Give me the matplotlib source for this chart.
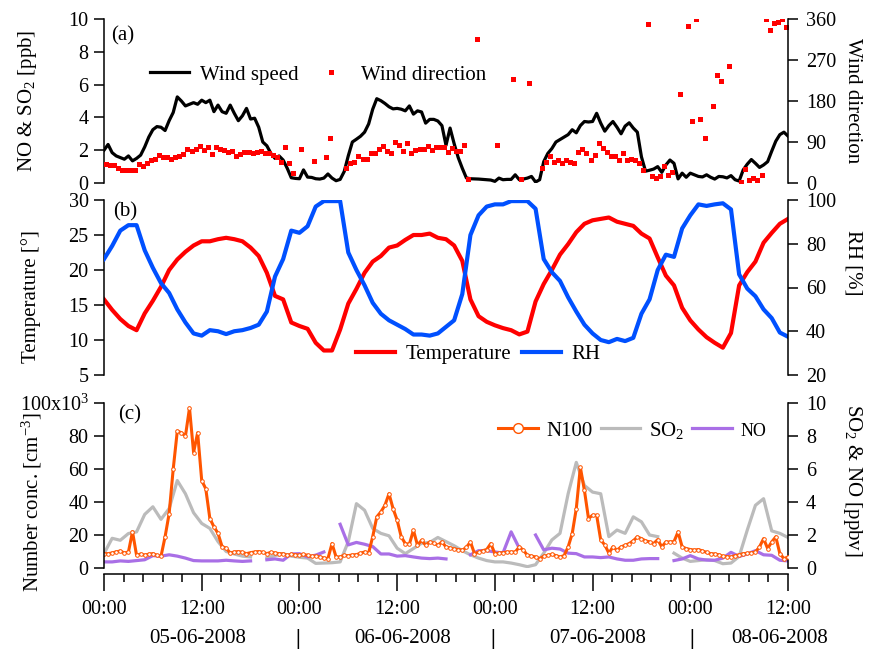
import numpy as np
import matplotlib.pyplot as plt
from matplotlib.lines import Line2D
from matplotlib.ticker import MultipleLocator

plt.rcParams['font.family'] = ['Liberation Serif', 'DejaVu Serif']
plt.rcParams['mathtext.fontset'] = 'custom'
plt.rcParams['mathtext.rm'] = 'Liberation Serif'
plt.rcParams['mathtext.default'] = 'regular'
plt.rcParams['font.size'] = 15
plt.rcParams['xtick.labelsize'] = 14.5
plt.rcParams['ytick.labelsize'] = 14.5
plt.rcParams['axes.linewidth'] = 1.1

nan = np.nan

# hours since 05-06-2008 00:00
# wind speed, every 30 min
wind_speed = [
    2.0, 2.35, 1.85, 1.65, 1.55, 1.45, 1.65, 1.35, 1.5, 1.7, 2.2, 2.8, 3.25, 3.44, 3.4, 3.2,
    3.8, 4.3, 5.25, 5.0, 4.7, 4.8, 4.9, 4.8, 5.05, 4.9, 5.05, 4.35, 4.75, 4.35, 4.25, 4.75,
    4.25, 3.8, 4.1, 4.55, 3.9, 3.95, 3.4, 2.5, 2.27, 1.8, 1.5, 1.65, 1.4, 0.9, 0.32, 0.28,
    0.26, 0.8, 0.36, 0.34, 0.26, 0.24, 0.3, 0.55, 0.3, 0.14, 0.22, 0.7, 1.66, 2.5, 2.67, 2.85,
    3.1, 3.6, 4.5, 5.14, 5.02, 4.85, 4.65, 4.52, 4.55, 4.5, 4.4, 4.7, 4.2, 4.4, 4.33, 3.65,
    3.88, 3.88, 3.78, 3.5, 2.3, 3.35, 2.4, 1.55, 0.9, 0.31, 0.26, 0.25, 0.24, 0.22, 0.2, 0.18,
    0.1, 0.3, 0.2, 0.22, 0.22, 0.5, 0.2, 0.24, 0.3, 0.4, 0.06, 0.2, 1.3, 1.8, 2.1, 2.5,
    2.65, 2.8, 2.95, 3.25, 3.06, 3.5, 3.75, 3.72, 3.75, 4.25, 3.65, 3.16, 3.5, 3.75, 3.4, 3.0,
    3.47, 3.67, 3.35, 3.1, 1.6, 0.72, 0.78, 0.85, 1.0, 0.65, 1.1, 1.4, 1.2, 0.25, 0.6, 0.35,
    0.6, 0.5, 0.4, 0.37, 0.5, 0.35, 0.24, 0.4, 0.38, 0.31, 0.45, 0.2, 0.12, 0.8, 1.15, 1.43,
    1.2, 0.95, 1.1, 1.3, 1.94, 2.55, 2.95, 3.1, 2.86,
]

# wind direction (deg), every 30 min from 00:15
wind_dir = [
    41.5, 40, 39, 34, 29, 28, 28, 28, 41.5, 38, 44, 51, 52, 61, 57, 57,
    52, 58, 60, 63, 74, 71, 74, 82, 73, 78, 63, 78, 74, 73, 67, 71,
    60, 63, 67, 67, 66, 69, 71, 66, 66, 61, 56, 47, 78, 45, 22, nan,
    74, nan, nan, 49, nan, nan, 56, 98, nan, nan, nan, 32, 45, 47, 60, 52,
    52, 66, 66, 74, 82, 71, 66, 89, 83, 71, 87, 66, 73, 74, 74, 82,
    73, 78, 78, 78, 67, 76, 70, 70, 83, 9, nan, 317, nan, nan, nan, nan,
    83, nan, nan, nan, 228, nan, 9, nan, 219, nan, nan, 33, 46, 60, 46, 51,
    43, 50, 46, 44, 68, 75, 66, 51, 62, 87, 77, 68, 59, 60, 50, 65,
    51, 53, 50, 43, 29, 349, 15, 11, 16, 38, 18, 24, nan, 195, nan, 344,
    137, 360, 141, 99, nan, 170, 237, 224, nan, 256, nan, nan, 1.5, 31, 7, 10,
    7, 18, 360, 336, 351, 354, 360, 342,
]

# hourly temperature (deg C) and RH (%)
temperature = [
    15.8, 14.3, 13.0, 12.0, 11.4, 13.8, 15.6, 17.6, 20.0, 21.5, 22.6, 23.5, 24.1, 24.1, 24.4, 24.6,
    24.4, 24.1, 23.2, 22.0, 19.6, 16.3, 15.8, 12.5, 12.0, 11.6, 9.6, 8.5, 8.5, 11.5, 15.2, 17.3,
    19.6, 21.2, 22.0, 23.2, 23.5, 24.3, 25.0, 25.0, 25.2, 24.6, 24.4, 23.5, 21.3, 15.8, 13.4, 12.6,
    12.1, 11.7, 11.4, 10.8, 11.2, 15.5, 18.0, 20.0, 22.2, 23.7, 25.4, 26.6, 27.1, 27.3, 27.5, 26.9,
    26.6, 26.3, 25.2, 24.5, 21.8, 19.2, 17.8, 14.6, 12.8, 11.5, 10.4, 9.6, 8.9, 11.0, 17.8, 19.7,
    21.2, 23.9, 25.3, 26.6, 27.3,
]
rh = [
    73, 79, 86, 88.5, 88.5, 77, 69, 62, 57.5, 50, 44, 39, 38, 40.5, 40, 38.7,
    40, 40.5, 41.5, 43, 49, 65, 73, 86, 85, 88, 97, 99.5, 99.5, 99.5, 76, 68,
    61, 53, 48, 45, 43, 41, 38.5, 38.5, 38, 39, 42, 45, 57, 84, 93, 97,
    98, 98, 99.5, 99.5, 99.5, 96, 73, 67, 63, 55.5, 49, 43, 39, 36, 35, 36.5,
    35.5, 37, 48, 54.6, 68, 75, 74, 87, 93, 98, 97.3, 98, 98.5, 95.7, 66, 59.5,
    56, 50, 46, 39.4, 37.5,
]

# N100 (x10^3 cm-3), every 30 min
n100 = [
    8.7, 8.7, 9.1, 9.8, 10.3, 9.1, 9.7, 22, 7.7, 8.5, 7.8, 8.4, 8.7, 7.7, 7.1, 18.9,
    33, 60, 83, 82, 80, 97, 70, 82, 53, 48, 30, 25, 21, 13, 12, 9.1,
    9.7, 10, 9.5, 8.7, 9.3, 9.7, 10, 9.5, 8.7, 9.5, 9.1, 8.7, 8.5, 7.7, 8.3, 8.0,
    7.7, 8.2, 7.7, 7.1, 7.3, 6.7, 6.0, 5.7, 14.8, 6.7, 6.7, 7.7, 7.5, 7.9, 8.1, 8.9,
    9.7, 9.1, 19, 31, 34, 38, 45, 36, 29, 18.9, 14.8, 14.4, 22.9, 13.8, 16.8, 13.8,
    15.8, 15, 13.8, 15.8, 12.8, 12.2, 11.5, 11.2, 10.8, 12.5, 15.8, 8.7, 9.5, 10.5, 11.2, 14.8,
    8.7, 9.0, 9.3, 9.7, 9.7, 9.7, 12.8, 10.8, 7.7, 7.2, 6.7, 5.7, 7.1, 7.6, 8.3, 7.5,
    6.7, 7.5, 12.8, 20.9, 36, 61, 47, 30, 32, 32, 17, 14, 9, 12.8, 10.8, 12.8,
    13.8, 14.8, 16.5, 18.9, 17.8, 16.5, 15.8, 14.8, 17.2, 12.8, 15.8, 15.8, 16, 21.9, 12.8, 11.8,
    11.2, 10.8, 11.2, 10.3, 9.5, 8.7, 8.5, 8.0, 7.1, 6.9, 6.7, 7.5, 8.0, 8.7, 8.9, 9.1,
    9.7, 12.8, 17.8, 11.8, 15.8, 18.9, 8.7, 5.7, 6.7,
]

# hourly SO2 and NO (ppbv)
so2 = [
    0.87, 1.8, 1.68, 2.09, 2.19, 3.25, 3.71, 2.95, 3.6, 5.3, 4.5, 3.35, 2.7, 2.4, 1.6, 1.0,
    0.85, 0.72, 0.67, nan, 0.62, 0.75, 0.87, 0.72, 0.65, 0.6, 0.28, 0.3, 0.32, 0.37, 1.6, 3.9,
    3.5, 2.4, 2.1, 1.95, 1.2, 0.87, 1.18, 1.5, 1.55, 1.85, 1.6, 1.35, 1.05, 0.8, 0.6, 0.45,
    0.37, 0.37, 0.3, 0.2, 0.08, 0.2, 0.9, 1.7, 2.1, 4.5, 6.4, 5.0, 4.6, 4.5, 1.9, 2.3,
    2.1, 3.1, 2.8, 2.0, 1.9, nan, 0.9, 0.6, 0.4, 0.45, 0.5, 0.45, 0.26, 0.3, 0.7, 2.3,
    3.8, 4.2, 2.25, 2.1, 1.85,
]
no = [
    0.37, 0.37, 0.43, 0.4, 0.45, 0.5, 0.75, 0.72, 0.8, 0.72, 0.6, 0.45, 0.43, 0.43, 0.43, 0.47,
    0.43, 0.4, 0.43, nan, 0.5, 0.55, 0.47, 0.85, 0.87, 0.67, 0.78, 0.97, nan, 2.65, 1.4, 1.55,
    1.44, 1.3, 0.85, 0.85, 0.72, 0.75, 0.67, 0.6, 0.57, 0.6, 0.55, nan, nan, 0.8, 1.05, 1.05,
    0.97, 0.91, 2.19, 1.2, nan, 2.0, 1.1, 1.2, 1.15, 0.9, 0.87, 0.67, 0.67, 0.63, 0.67, 0.55,
    0.47, 0.47, 0.55, 0.57, 0.57, nan, 0.45, 0.55, 0.75, 0.55, 0.48, 0.47, 0.6, 0.95, 0.7, 0.85,
    1.05, 0.8, 0.77, 0.47, 0.43,
]

dates = ['05-06-2008', '06-06-2008', '07-06-2008', '08-06-2008']
date_hours = [11.5, 36.7, 60.6, 83.0]
day_breaks = [23.8, 47.8, 72.2]

t_half = np.arange(len(wind_speed)) * 0.5
t_wd = 0.25 + np.arange(len(wind_dir)) * 0.5
t_hour = np.arange(len(temperature))
t_n100 = np.arange(len(n100)) * 0.5

W, H = 870, 652


def box(top, bottom):
    return [104 / W, 1 - bottom / H, 684 / W, (bottom - top) / H]


def style(ax, tw):
    for a in (ax, tw):
        a.spines['top'].set_visible(False)
        a.spines['bottom'].set_visible(False)
        a.tick_params(axis='y', direction='out', length=7, width=1.1, pad=4)
    ax.spines['right'].set_visible(False)
    tw.spines['left'].set_visible(False)
    tw.tick_params(axis='y', pad=6)
    ax.tick_params(axis='x', bottom=False, labelbottom=False)
    ax.set_xlim(0, 84)


fig = plt.figure(figsize=(8.7, 6.52), dpi=100)

# (a) wind
ax_a = fig.add_axes(box(19, 183))
ax_a2 = ax_a.twinx()
style(ax_a, ax_a2)
ax_a.plot(t_half, wind_speed, color='black', lw=2.3)
ax_a2.plot(t_wd, wind_dir, ls='none', marker='s', ms=3.6, color='#FF0000', mew=0)
ax_a.set_ylim(0, 10)
ax_a.set_yticks(range(0, 11, 2))
ax_a2.set_ylim(0, 360)
ax_a2.set_yticks(range(0, 361, 90))
ax_a.set_ylabel('NO & SO$_2$ [ppb]', va='center')
ax_a.yaxis.set_label_coords(-0.112, 0.5)
ax_a2.set_ylabel('Wind direction', rotation=270, va='center')
ax_a2.yaxis.set_label_coords(1.095, 0.5)
ax_a.text(0.028, 0.9, '(a)', transform=ax_a.transAxes, ha='center', va='center')
h_a = [Line2D([], [], color='black', lw=2.3),
       Line2D([], [], ls='none', marker='s', ms=3.6, color='#FF0000', mew=0)]
ax_a2.legend(h_a, ['Wind speed', 'Wind direction'], loc='center', bbox_to_anchor=(0.313, 0.66),
             ncol=2, frameon=False, handlelength=1.9, handletextpad=0.5, columnspacing=0.6,
             borderpad=0, borderaxespad=0)

# (b) temperature / RH
ax_b = fig.add_axes(box(200, 375))
ax_b2 = ax_b.twinx()
style(ax_b, ax_b2)
ax_b.plot(t_hour, temperature, color='#FF0000', lw=3)
ax_b2.plot(t_hour, rh, color='#0050FF', lw=3)
ax_b.set_ylim(5, 30)
ax_b.set_yticks(range(5, 31, 5))
ax_b2.set_ylim(20, 100)
ax_b2.set_yticks(range(20, 101, 20))
ax_b.set_ylabel('Temperature [°]', va='center')
ax_b.yaxis.set_label_coords(-0.107, 0.45)
ax_b2.set_ylabel('RH [%]', rotation=270, va='center')
ax_b2.yaxis.set_label_coords(1.095, 0.64)
ax_b.text(0.031, 0.93, '(b)', transform=ax_b.transAxes, ha='center', va='center')
h_b = [Line2D([], [], color='#FF0000', lw=3), Line2D([], [], color='#0050FF', lw=3)]
ax_b2.legend(h_b, ['Temperature', 'RH'], loc='center', bbox_to_anchor=(0.547, 0.12),
             ncol=2, frameon=False, handlelength=1.9, handletextpad=0.5, columnspacing=0.5,
             borderpad=0, borderaxespad=0)

# (c) N100, SO2, NO
ax_c = fig.add_axes(box(403, 568))
ax_c2 = ax_c.twinx()
ax_c.set_zorder(ax_c2.get_zorder() + 1)
ax_c.patch.set_visible(False)
for a in (ax_c, ax_c2):
    a.spines['top'].set_visible(False)
    a.tick_params(axis='y', direction='out', length=7, width=1.1, pad=4)
ax_c2.tick_params(axis='y', pad=6)
ax_c.spines['right'].set_visible(False)
ax_c2.spines['left'].set_visible(False)
ax_c2.spines['bottom'].set_visible(False)
ax_c.spines['bottom'].set_position(('outward', 4))

ax_c2.plot(t_hour, so2, color='#BBBBBB', lw=2.3)
ax_c2.plot(t_hour, no, color='#A96FE6', lw=2.3)
ax_c.plot(t_n100, n100, color='#FF5500', lw=2.2, marker='o', ms=2.6, mfc='white',
          mec='#FF5500', mew=0.7)
ax_c.set_ylim(0, 100)
ax_c.set_yticks(range(0, 101, 20))
ax_c.set_yticklabels(['0', '20', '40', '60', '80', '100x10$^3$'])
ax_c2.set_ylim(0, 10)
ax_c2.set_yticks(range(0, 11, 2))
ax_c.set_xlim(0, 84)
ax_c.set_xticks(range(0, 85, 12))
ax_c.set_xticklabels(['00:00' if h % 24 == 0 else '12:00' for h in range(0, 85, 12)])
ax_c.xaxis.set_minor_locator(MultipleLocator(2.4))
ax_c.tick_params(axis='x', which='major', direction='out', length=12, width=1.1, pad=7)
ax_c.tick_params(axis='x', which='minor', direction='out', length=6, width=1.1)
ax_c.set_ylabel('Number conc. [cm$^{-3}$]', va='center')
ax_c.yaxis.set_label_coords(-0.105, 0.40)
ax_c2.set_ylabel('SO$_2$ & NO [ppbv]', rotation=270, va='center')
ax_c2.yaxis.set_label_coords(1.094, 0.53)
ax_c.text(0.038, 0.927, '(c)', transform=ax_c.transAxes, ha='center', va='center')

xt = ax_c.get_xaxis_transform()
for d, h in zip(dates, date_hours):
    ax_c.text(h, -0.43, d, transform=xt, ha='center', va='center', clip_on=False)
for h in day_breaks:
    ax_c.text(h, -0.43, '|', transform=xt, ha='center', va='center', fontweight='bold',
              fontsize=16, clip_on=False)

h_c = [Line2D([], [], color='#FF5500', lw=2.2, marker='o', ms=7, mfc='white', mec='#FF5500', mew=1),
       Line2D([], [], color='#BBBBBB', lw=2.3),
       Line2D([], [], color='#A96FE6', lw=2.3)]
leg = ax_c.legend(h_c, ['N100', 'SO$_2$', 'NO'], loc='center', bbox_to_anchor=(0.772, 0.836),
                  ncol=3, frameon=False, handlelength=1.9, handletextpad=0.4, columnspacing=0.4,
                  borderpad=0, borderaxespad=0)
leg.get_texts()[2].set_fontsize(13)

fig.savefig('out.png', dpi=100)
